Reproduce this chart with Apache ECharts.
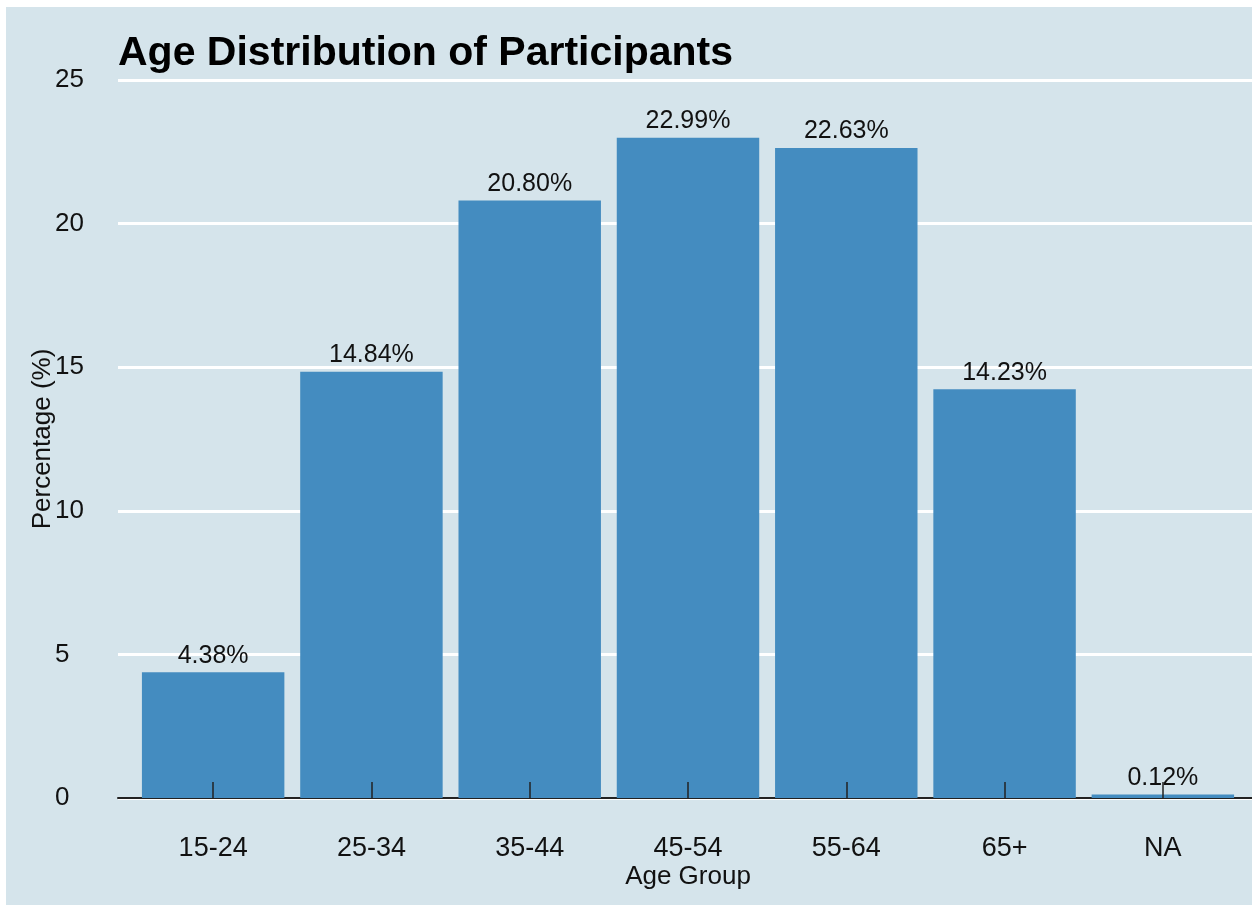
<!DOCTYPE html>
<html lang="en">
    <head>
        <meta charset="UTF-8">
        <script src="https://cdn.jsdelivr.net/npm/echarts@6/dist/echarts.min.js"></script>
        <title>Age Distribution of Participants</title>
        <style>
            body { margin: 0; background: #ffffff; overflow: hidden; }
            #chart-container { position: absolute; left: 6px; top: 7px; width: 1246px; height: 900px; }
        </style>
    </head>
    <body>
        <div id="chart-container"></div>

        <script>
            // the data
            const ageGroups = ['15-24', '25-34', '35-44', '45-54', '55-64', '65+', 'NA'];
            const percentages = [4.38, 14.84, 20.80, 22.99, 22.63, 14.23, 0.12];
            const yTicks = [0, 5, 10, 15, 20, 25];

            const font = 'Liberation Sans, Arial, sans-serif';
            const chart = echarts.init(document.getElementById('chart-container'));

            const options = {
                backgroundColor: '#d5e4eb',
                title: {
                    text: 'Age Distribution of Participants',
                    left: 107,
                    top: 21,
                    textStyle: { fontFamily: font, fontSize: 41, fontWeight: 'bold', color: '#000000' }
                },
                grid: [
                    // wide grid: only gridlines and the base line
                    { left: 112, right: 0, top: 73, bottom: 109 },
                    // bars sit in a narrower grid (ggplot-like padding on the sides)
                    { left: 128, right: 10, top: 73, bottom: 109 }
                ],
                xAxis: [
                    {
                        gridIndex: 0, type: 'value', min: 0, max: 1,
                        axisLine: { show: true, onZero: false, lineStyle: { color: '#222222', width: 2 } },
                        axisTick: { show: false }, axisLabel: { show: false }, splitLine: { show: false }
                    },
                    {
                        gridIndex: 1, type: 'category', data: ageGroups, z: 5,
                        axisLine: { show: false },
                        axisTick: { show: true, inside: true, length: 16, alignWithLabel: true, lineStyle: { color: '#222222', width: 1.5 } },
                        axisLabel: { margin: 37, fontFamily: font, fontSize: 27, color: '#111111' },
                        name: 'Age Group', nameLocation: 'middle', nameGap: 66, nameMoveOverlap: false,
                        nameTextStyle: { fontFamily: font, fontSize: 26, color: '#111111' }
                    }
                ],
                yAxis: [
                    {
                        gridIndex: 0, type: 'value', min: yTicks[0], max: yTicks[yTicks.length - 1], interval: 5,
                        axisLine: { show: false }, axisTick: { show: false },
                        axisLabel: { align: 'left', margin: 63, fontFamily: font, fontSize: 26, color: '#111111' },
                        splitLine: { show: true, lineStyle: { color: '#ffffff', width: 3 } },
                        name: 'Percentage (%)', nameLocation: 'middle', nameGap: 62, nameMoveOverlap: false,
                        nameTextStyle: { fontFamily: font, fontSize: 26, color: '#111111' }
                    },
                    {
                        gridIndex: 1, type: 'value', min: 0, max: 25, interval: 5, show: false,
                        splitLine: { show: false }
                    }
                ],
                series: [
                    {
                        type: 'bar',
                        xAxisIndex: 1,
                        yAxisIndex: 1,
                        data: percentages,
                        barCategoryGap: '10%',
                        itemStyle: { color: '#448cc0' },
                        label: {
                            show: true,
                            position: 'top',
                            distance: 4,
                            formatter: p => p.value.toFixed(2) + '%',
                            fontFamily: font, fontSize: 25, color: '#111111'
                        },
                        z: 1
                    }
                ]
            };
            chart.setOption(options);
        </script>
    </body>
</html>
